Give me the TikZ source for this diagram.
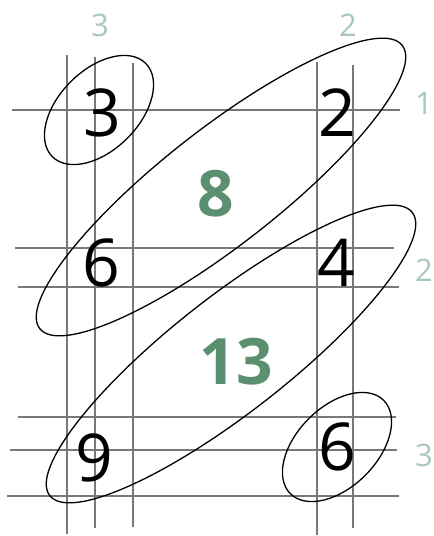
\documentclass[tikz,border=0pt]{standalone}
\usepackage{fontspec}
\setmainfont{Open Sans}
\usepackage{xcolor}
\definecolor{gridgray}{RGB}{120,120,120}
\definecolor{sumgreen}{RGB}{90,143,112}
\definecolor{idxgreen}{RGB}{170,200,182}
\tikzset{
  gridline/.style={draw=gridgray, line width=1.3pt},
  loop/.style={draw=black, line width=1.3pt},
  digit/.style={font=\fontsize{66}{66}\selectfont, inner sep=0pt},
  sumlabel/.style={font=\fontsize{64}{64}\selectfont\bfseries, text=sumgreen, inner sep=0pt},
  idxlabel/.style={font=\fontsize{31}{31}\selectfont, text=idxgreen, inner sep=0pt}
}
\begin{document}
\begin{tikzpicture}[x=1pt, y=1pt]
\useasboundingbox (0,0) rectangle (434,-536);

% vertical lines
\draw[gridline] (67,-55) -- (67,-534);
\draw[gridline] (95,-57) -- (95,-528);
\draw[gridline] (133,-63) -- (133,-527);
\draw[gridline] (317,-62) -- (317,-535);
\draw[gridline] (353,-65) -- (353,-528);

% horizontal lines
\draw[gridline] (12,-110) -- (400,-110);
\draw[gridline] (15,-248) -- (394,-248);
\draw[gridline] (18,-287) -- (399,-287);
\draw[gridline] (18,-417) -- (396,-417);
\draw[gridline] (10,-450) -- (397,-450);
\draw[gridline] (7,-496) -- (399,-496);

% digits
\node[digit] (a11) at (102,-113) {3};
\node[digit] (a12) at (337,-113) {2};
\node[digit] (a21) at (101,-263) {6};
\node[digit] (a22) at (336,-263) {4};
\node[digit] (a31) at (94,-458) {9};
\node[digit] (a32) at (337,-447) {6};

% sums
\node[sumlabel] (s8) at (216,-194) {8};
\node[sumlabel] (s13) at (236,-362) {13};

% indices
\node[idxlabel] (c1) at (100,-25) {3};
\node[idxlabel] (c2) at (348,-25) {2};
\node[idxlabel] (r1) at (424,-103) {1};
\node[idxlabel] (r2) at (424,-270) {2};
\node[idxlabel] (r3) at (424,-455) {3};

% loops
\draw[loop, rotate around={45:(99,-110)}] (99,-110) ellipse [x radius=66, y radius=40];
\draw[loop, rotate around={45:(337,-447)}] (337,-447) ellipse [x radius=66, y radius=40];
\draw[loop, rotate around={38:(221,-187)}] (221,-187) ellipse [x radius=230, y radius=58];
\draw[loop, rotate around={38:(231,-354)}] (231,-354) ellipse [x radius=230, y radius=58];
\end{tikzpicture}
\end{document}
